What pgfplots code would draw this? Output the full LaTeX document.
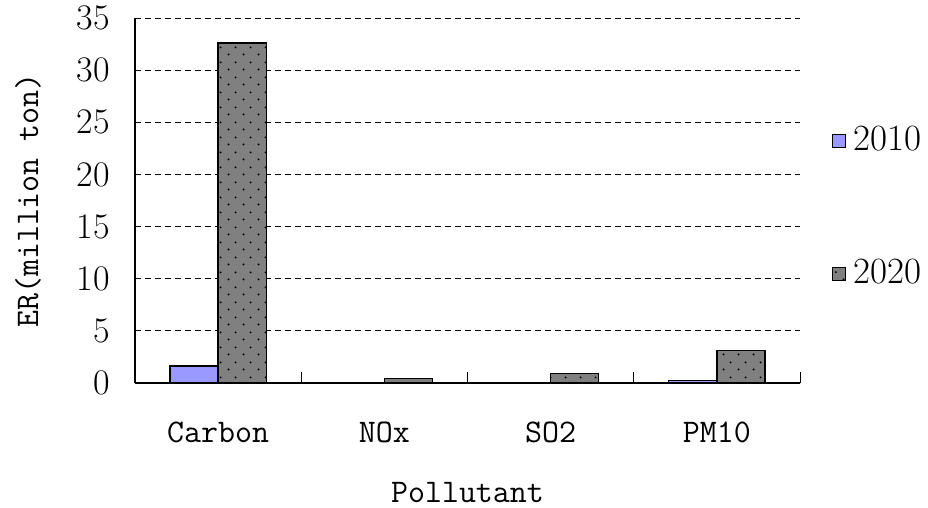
\documentclass[border=0pt]{standalone}
\usepackage{pgfplots}
\pgfplotsset{compat=1.18}
\usetikzlibrary{patterns}
\pgfdeclarepatternformonly{mydots}{\pgfpoint{0bp}{0bp}}{\pgfpoint{15bp}{15bp}}{\pgfpoint{15bp}{15bp}}{%
\pgfpathcircle{\pgfpoint{3.75bp}{3.75bp}}{1.1bp}\pgfpathcircle{\pgfpoint{11.25bp}{11.25bp}}{1.1bp}\pgfusepath{fill}}
\definecolor{c2010}{HTML}{9999FF}
\definecolor{c2020}{HTML}{808080}
\begin{document}
\ttfamily\fontsize{33bp}{40bp}\selectfont
\begin{tikzpicture}
\begin{axis}[
 scale only axis, width=665bp, height=365bp,
 xmin=-0.5, xmax=3.5, ymin=0, ymax=35,
 axis lines=left, axis line style={-, line width=1.3bp, black},
 xtick={0,1,2,3}, xticklabels={Carbon,NOx,SO2,PM10},
 major x tick style={draw=none},
 minor xtick={0.5,1.5,2.5,3.5},
 minor tick length=11bp,
 ytick={0,5,...,35},
 major tick length=6bp,
 tick align=inside,
 tick style={black, line width=1bp},
 ymajorgrids, grid style={black, line width=0.8bp, dash pattern=on 6bp off 4bp},
 /pgf/number format/assume math mode=true,
 yticklabel style={anchor=east, inner sep=0pt, xshift=-25bp, font=\rmfamily\fontsize{36bp}{40bp}\selectfont},
 xticklabel style={anchor=center, yshift=-49bp},
 ylabel={ER(million ton)}, xlabel={Pollutant},
 ylabel style={at={(axis description cs:-0.161,0.5)}, anchor=center},
 xlabel style={at={(axis description cs:0.5,-0.299)}, anchor=center},
 legend style={at={(axis description cs:1.048,0.481)}, anchor=west, draw=none, fill=none, inner sep=0pt, row sep=100bp, font=\rmfamily\fontsize{37bp}{40bp}\selectfont},
 legend image code/.code={\draw[#1, line width=1.3bp] (0bp,-6.5bp) rectangle (13bp,6.5bp); \path (18bp,0bp);},
 legend cell align=left,
]
\coordinate (O) at (rel axis cs:0,0);
\addplot[ybar, bar width=0.29, bar shift=-0.145, fill=c2010, draw=black, line width=1.3bp] coordinates {(0,1.63) (1,0) (2,0) (3,0.22)};
\addlegendentry{2010}
\addplot[ybar, bar width=0.29, bar shift=0.145, fill=c2020, draw=black, line width=1.3bp, postaction={pattern=mydots, pattern color=black}] coordinates {(0,32.6) (1,0.41) (2,0.89) (3,3.1)};
\addlegendentry{2020}
\end{axis}
\pgfresetboundingbox
\path (O) ++(-135bp,-125bp) rectangle ++(928bp,508bp);
\end{tikzpicture}
\end{document}
